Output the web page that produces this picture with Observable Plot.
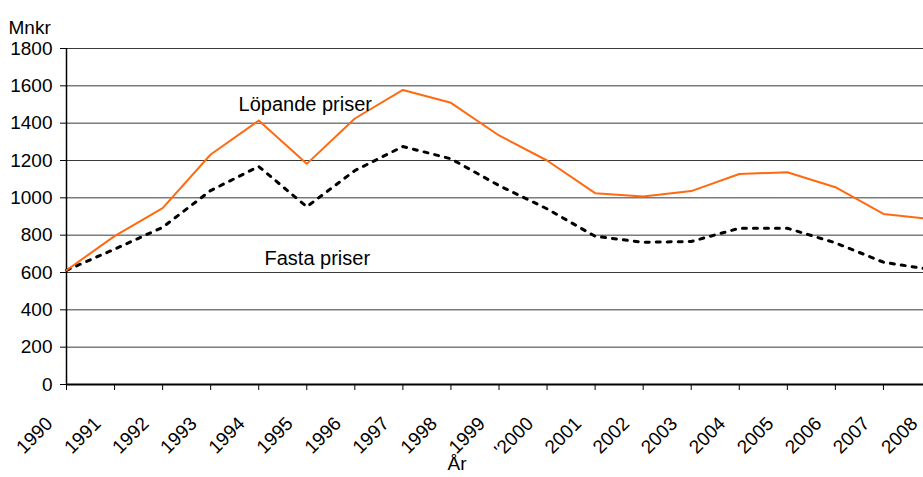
<!DOCTYPE html>
<html>
<head>
<meta charset="utf-8">
<script src="https://cdn.jsdelivr.net/npm/d3@7"></script>
<script src="https://cdn.jsdelivr.net/npm/@observablehq/plot@0.6"></script>
<style>
  html, body { margin: 0; padding: 0; background: #fff; }
  svg { display: block; }
</style>
</head>
<body>
<div id="chart"></div>
<script>
const years = [1990,1991,1992,1993,1994,1995,1996,1997,1998,1999,2000,2001,2002,2003,2004,2005,2006,2007,2008];
const yearLabels = ["1990","1991","1992","1993","1994","1995","1996","1997","1998","1999","'2000","2001","2002","2003","2004","2005","2006","2007","2008"];
const lopande = [612,795,945,1232,1414,1182,1425,1578,1509,1334,1200,1025,1007,1036,1128,1137,1057,914,885];
const fasta = [612,725,842,1039,1168,952,1146,1275,1209,1066,941,794,762,766,837,837,759,655,615];
const yTicks = [0,200,400,600,800,1000,1200,1400,1600,1800];
const seriesNames = ["Löpande priser","Fasta priser"];
const labelX = [1993.58, 1994.12];
const labelY = [1500, 675];

const rows = years.map((y, i) => ({year: y, lop: lopande[i], fas: fasta[i]}));
const annotations = seriesNames.map((n, i) => ({name: n, x: labelX[i], y: labelY[i]}));
const xLabels = years.map((y, i) => ({year: y, label: yearLabels[i]}));

const chart = Plot.plot({
  width: 923,
  height: 477,
  marginTop: 48,
  marginBottom: 93,
  marginLeft: 66,
  marginRight: 0,
  style: {fontFamily: "'Liberation Sans', Arial, sans-serif", background: "#fff", color: "#000"},
  x: {domain: [1990, 2008], range: [66, 931]},
  y: {domain: [0, 1800], range: [384, 48]},
  marks: [
    Plot.ruleY(yTicks.filter(d => d > 0), {stroke: "#3a3a3a", strokeWidth: 1}),
    Plot.axisY({ticks: yTicks, tickSize: 6, tickPadding: 8, fontSize: 19, label: null, tickFormat: d => String(d)}),
    Plot.axisX({ticks: years, tickSize: 6, tickFormat: () => "", label: null}),
    Plot.text(xLabels, {x: "year", y: () => 0, text: "label", rotate: -45, textAnchor: "end", lineAnchor: "middle",
      dx: -17, dy: 36, fontSize: 19, fill: "#000"}),
    Plot.ruleX([1990], {stroke: "#000", strokeWidth: 1.5}),
    Plot.ruleY([0], {stroke: "#000", strokeWidth: 2}),
    Plot.line(rows, {x: "year", y: "fas", stroke: "#000", strokeWidth: 3, strokeDasharray: "4,7"}),
    Plot.line(rows, {x: "year", y: "lop", stroke: "#ff6a10", strokeWidth: 2}),
    Plot.text(annotations, {x: "x", y: "y", text: "name", textAnchor: "start", fontSize: 20, fill: "#000"}),
    Plot.text(["Mnkr"], {frameAnchor: "top-left", dx: -58, dy: -28, textAnchor: "start", fontSize: 19}),
    Plot.text(["År"], {frameAnchor: "bottom", dx: -38, dy: 85, fontSize: 19})
  ]
});
document.getElementById("chart").appendChild(chart);
</script>
</body>
</html>
